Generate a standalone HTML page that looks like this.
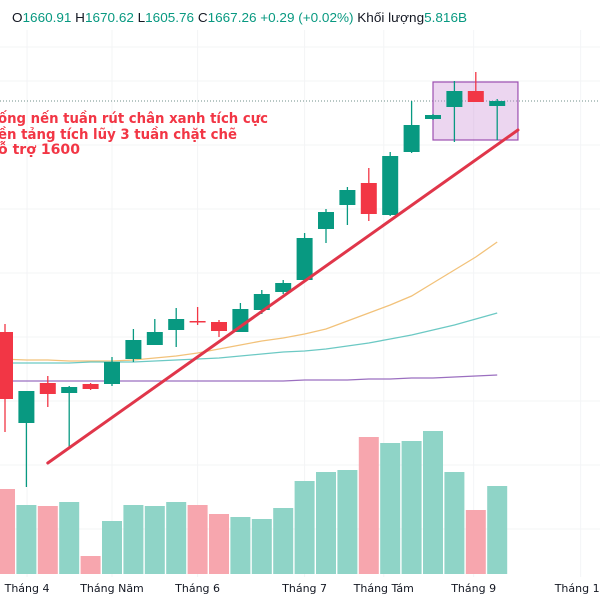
<!DOCTYPE html>
<html><head><meta charset="utf-8"><style>
html,body{margin:0;padding:0;background:#fff;}
svg{display:block;font-family:"Liberation Sans",sans-serif;}
</style></head><body>
<svg id="chart" width="600" height="600" viewBox="0 0 600 600">
  <rect x="0" y="0" width="600" height="600" fill="#fff"/>
  <g id="grid"></g>
  <g id="vol"></g>
  <g id="ma"></g>
  <g id="box"></g>
  <g id="candles"></g>
  <g id="trend"></g>
  <g id="xaxis"></g>
  <g fill="#f23645" font-family="'DejaVu Sans',sans-serif" font-weight="bold" font-size="14">
    <text x="-2" y="123" textLength="270" lengthAdjust="spacingAndGlyphs">ống nến tuần rút chân xanh tích cực</text>
    <text x="-2" y="139" textLength="239" lengthAdjust="spacingAndGlyphs">ền tảng tích lũy 3 tuần chặt chẽ</text>
    <text x="-2" y="154" textLength="82" lengthAdjust="spacingAndGlyphs">ỗ trợ 1600</text>
  </g>
  <text x="12" y="22" font-size="13" textLength="455" lengthAdjust="spacingAndGlyphs"><tspan fill="#131722">O</tspan><tspan fill="#089981">1660.91 </tspan><tspan fill="#131722">H</tspan><tspan fill="#089981">1670.62 </tspan><tspan fill="#131722">L</tspan><tspan fill="#089981">1605.76 </tspan><tspan fill="#131722">C</tspan><tspan fill="#089981">1667.26 +0.29 (+0.02%) </tspan><tspan fill="#131722">Khối lượng</tspan><tspan fill="#089981">5.816B</tspan></text>
</svg>
<script>
const opens  = [1205,1023,1103,1083,1101,1101,1151,1179,1209,1227,1225,1205,1249,1285,1309,1411,1459,1503,1439,1565,1631,1655,1687,1657];
const highs  = [1221,1087,1117,1097,1103,1155,1211,1231,1253,1255,1229,1263,1289,1309,1403,1451,1495,1533,1565,1667,1641,1707,1725,1671];
const lows   = [1005,895,1055,975,1089,1097,1145,1179,1175,1219,1195,1205,1241,1281,1305,1383,1419,1427,1437,1563,1629,1585,1665,1589];
const closes = [1071,1087,1081,1095,1091,1145,1189,1205,1231,1225,1207,1251,1281,1303,1393,1445,1489,1441,1557,1619,1639,1687,1665,1667];
const volumes = [85,69,68,72,18,53,69,68,72,69,60,57,55,66,93,102,104,137,131,133,143,102,64,88];
const volumeDown = [1,0,1,0,1,0,0,0,0,1,1,0,0,0,0,0,0,1,0,0,0,0,1,0];
const maFast = [1151,1149,1149,1147,1147,1147,1149,1153,1157,1163,1171,1179,1187,1193,1201,1211,1227,1243,1259,1277,1303,1329,1355,1385];
const maMid  = [1143,1143,1143,1143,1145,1145,1145,1147,1149,1151,1153,1157,1161,1165,1167,1171,1177,1183,1191,1199,1209,1219,1231,1243];
const maSlow = [1107,1107,1107,1107,1107,1107,1107,1107,1107,1107,1107,1107,1107,1107,1109,1109,1109,1111,1111,1113,1113,1115,1117,1119];
const trendStart = [2, 943];
const trendEnd = [23.97, 1609];
const boxRange = [20, 23.97, 1705, 1589];
const lastPrice = 1667;
const monthLabels = ["Tháng 4","Tháng Năm","Tháng 6","Tháng 7","Tháng Tám","Tháng 9","Tháng 10"];
const monthIndex = [1.03,5,9,14,17.7,21.9,26.9];

const NS="http://www.w3.org/2000/svg";
const X = i => 5 + 21.4*i;
const Y = p => (1869 - p)/2;
const VY = v => 574 - v;
function mk(tag, parent, attrs){const e=document.createElementNS(NS,tag);for(const k in attrs)e.setAttribute(k,attrs[k]);parent.appendChild(e);return e;}

const grid=document.getElementById('grid');
[47,81,145,209,273,337,401,465,529].forEach(y=>{const l=mk('line',grid,{x1:0,x2:600,y1:y,y2:y,stroke:'#f3f4f6','stroke-width':1});

});
monthIndex.forEach(i=>{const l=mk('line',grid,{x1:X(i),x2:X(i),y1:30,y2:577,stroke:'#f3f4f6','stroke-width':1});

});
const pl=mk('line',grid,{x1:0,x2:600,y1:Y(lastPrice),y2:Y(lastPrice),stroke:'#6f8f8a','stroke-width':1,'stroke-dasharray':'1 2'});



const vol=document.getElementById('vol');
volumes.forEach((v,i)=>{const r=mk('rect',vol,{x:X(i)-10,y:VY(v),width:20,height:v,fill:volumeDown[i]?'#f7a6ae':'#8fd4c7'});

});

const ma=document.getElementById('ma');
[[maFast,'#f2c27a'],[maMid,'#6cc9c4'],[maSlow,'#9b6fc0']].forEach(([arr,c])=>{
  const d=arr.map((p,i)=>(i?'L':'M')+(i===0?0:X(i))+' '+Y(p)).join(' ');
  const e=mk('path',ma,{d:d,fill:'none',stroke:c,'stroke-width':1.3});
  
  
});

const bx=document.getElementById('box');
const br=mk('rect',bx,{x:X(boxRange[0]),y:Y(boxRange[2]),width:X(boxRange[1])-X(boxRange[0]),height:Y(boxRange[3])-Y(boxRange[2]),fill:'rgba(206,147,216,0.38)',stroke:'#9c4fb0','stroke-width':1.2});



const cg=document.getElementById('candles');
opens.forEach((o,i)=>{
  const c=closes[i], up=c>=o, col=up?'#089981':'#f23645';
  const w=mk('line',cg,{x1:X(i),x2:X(i),y1:Y(highs[i]),y2:Y(lows[i]),stroke:col,'stroke-width':1.3});
  
  
  const top=Y(Math.max(o,c)), h=Math.max(Math.abs(Y(o)-Y(c)),1.5);
  const b=mk('rect',cg,{x:X(i)-8,y:top,width:16,height:h,fill:col});
  
  
});

const tg=document.getElementById('trend');
const tl=mk('line',tg,{x1:X(trendStart[0]),y1:Y(trendStart[1]),x2:X(trendEnd[0]),y2:Y(trendEnd[1]),stroke:'#e0364a','stroke-width':3,'stroke-linecap':'round'});



const xa=document.getElementById('xaxis');
monthLabels.forEach((t,i)=>{const e=mk('text',xa,{x:X(monthIndex[i]),y:592,'text-anchor':'middle','font-size':11,fill:'#131722','font-family':"'DejaVu Sans',sans-serif"});
e.textContent=t;

});
</script>
</body></html>
